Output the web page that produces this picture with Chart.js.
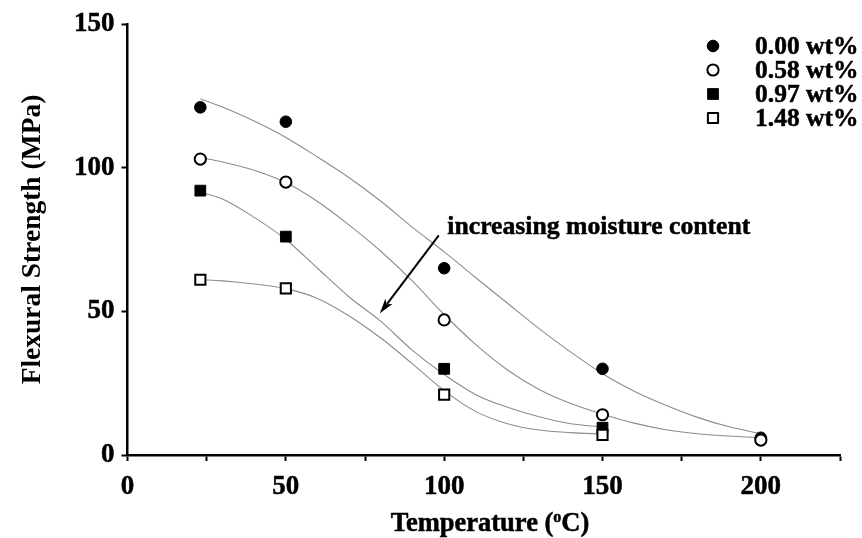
<!DOCTYPE html>
<html><head><meta charset="utf-8">
<script src="https://cdn.jsdelivr.net/npm/chart.js@4/dist/chart.umd.min.js"></script>
<style>html,body{margin:0;padding:0;background:#fff}#wrap{width:862px;height:538px;position:relative}</style>
</head><body><div id="wrap"><canvas id="c" width="862" height="538"></canvas></div>
<script>
// ---- data ----
const seriesLabels = ['0.00 wt%', '0.58 wt%', '0.97 wt%', '1.48 wt%'];
const temps = [23, 50, 100, 150, 200];
const s000 = [121, 116, 65, 30, 6];
const s058 = [103, 95, 47, 14, 5.2];
const s097 = [92, 76, 30, 9.5];
const s148 = [61, 58, 21, 7];
// fitted curves
const curveT = [23, 30, 40, 50, 60, 70, 80, 90, 100, 110, 120, 130, 140, 150, 160, 170, 180, 190, 200];
const fit000 = [124, 121.1, 116.2, 110.5, 103.7, 96.5, 88.3, 79.2, 70.7, 61.7, 52.8, 44, 35.8, 28.3, 22.2, 17.3, 13.1, 9.8, 7.4];
const fit058 = [103.5, 102, 99.1, 94.8, 88.2, 80, 70.9, 60.5, 48.9, 38.4, 29.6, 22.8, 17.9, 14.2, 11.1, 8.8, 7.4, 6.6, 6.0];
const fit097 = [91.5, 89.1, 82.7, 75, 65, 55, 46.5, 36.4, 28, 21, 16.6, 13.3, 10.9, 9.8];
const fit148 = [61, 60.6, 59.5, 57.9, 54.5, 48.4, 40.7, 31.7, 22.4, 15.1, 10.9, 8.7, 7.8, 7.3];
const xTitle = ['Temperature (', 'o', 'C)'];
const yTitle = 'Flexural Strength (MPa)';
const annotationText = 'increasing moisture content';

const FONT = '"Liberation Serif", "Times New Roman", serif';
const pts = (xs, ys) => ys.map((v, i) => ({x: xs[i], y: v}));
const curve = (ys) => ({
  type: 'line', data: pts(curveT, ys), showLine: true, pointRadius: 0,
  borderColor: '#8c8c8c', borderWidth: 1.1, cubicInterpolationMode: 'monotone',
  fill: false, order: 10, isCurve: true
});

const styles = [
  {pointStyle: 'circle', pointRadius: 5.8, pointBackgroundColor: '#000', pointBorderColor: '#000', pointBorderWidth: 1, order: 2},
  {pointStyle: 'circle', pointRadius: 5.6, pointBackgroundColor: '#fff', pointBorderColor: '#000', pointBorderWidth: 2, order: 1},
  {pointStyle: 'rect', pointRadius: 7.6, pointBackgroundColor: '#000', pointBorderColor: '#000', pointBorderWidth: 1, order: 4},
  {pointStyle: 'rect', pointRadius: 7.2, pointBackgroundColor: '#fff', pointBorderColor: '#000', pointBorderWidth: 2, order: 3}
];
const seriesData = [s000, s058, s097, s148];
const pointSets = seriesData.map((ys, i) => Object.assign({
  type: 'scatter', label: seriesLabels[i], data: pts(temps, ys), showLine: false
}, styles[i]));

function boldText(ctx, str, x, y) {
  ctx.fillText(str, x, y);
  ctx.strokeText(str, x, y);
}

const extras = {
  id: 'extras',
  afterDraw(chart) {
    const {ctx, scales: {x, y}} = chart;
    ctx.save();
    ctx.fillStyle = '#000';
    ctx.strokeStyle = '#000';
    ctx.lineWidth = 0.5;
    ctx.lineJoin = 'round';
    // x axis title with superscript
    const big = 'bold 26.5px ' + FONT, small = 'bold 16px ' + FONT;
    ctx.font = big; const w1 = ctx.measureText(xTitle[0]).width; const w3 = ctx.measureText(xTitle[2]).width;
    ctx.font = small; const w2 = ctx.measureText(xTitle[1]).width;
    const tot = w1 + w2 + w3;
    let cx = 490 - tot / 2; const by = 531;
    ctx.textAlign = 'left'; ctx.textBaseline = 'alphabetic';
    ctx.font = big; boldText(ctx, xTitle[0], cx, by); cx += w1;
    ctx.font = small; boldText(ctx, xTitle[1], cx, by - 9); cx += w2;
    ctx.font = big; boldText(ctx, xTitle[2], cx, by);
    // legend
    const lx = 713, tx = 755, rows = [46, 70, 94, 118];
    chart.data.datasets.filter(d => !d.isCurve).forEach((d, i) => {
      ctx.fillStyle = d.pointBackgroundColor; ctx.strokeStyle = d.pointBorderColor; ctx.lineWidth = d.pointBorderWidth;
      Chart.helpers.drawPoint(ctx, {pointStyle: d.pointStyle, radius: d.pointRadius, rotation: 0, borderWidth: d.pointBorderWidth}, lx, rows[i]);
      ctx.fillStyle = '#000'; ctx.strokeStyle = '#000'; ctx.lineWidth = 0.5;
      ctx.font = 'bold 25.5px ' + FONT; ctx.textBaseline = 'middle';
      boldText(ctx, d.label, tx, rows[i] + 1);
    });
    // annotation
    ctx.font = 'bold 25.7px ' + FONT; ctx.textBaseline = 'alphabetic'; ctx.fillStyle = '#000';
    boldText(ctx, annotationText, x.getPixelForValue(101), y.getPixelForValue(76.9));
    const x0 = x.getPixelForValue(98.3), y0 = y.getPixelForValue(76.4);
    const x1 = x.getPixelForValue(79.7), y1 = y.getPixelForValue(49.3);
    const ang = Math.atan2(y1 - y0, x1 - x0);
    const hl = 15, hw = 4.5;
    ctx.lineWidth = 2;
    ctx.beginPath(); ctx.moveTo(x0, y0); ctx.lineTo(x1 - Math.cos(ang) * hl * 0.8, y1 - Math.sin(ang) * hl * 0.8); ctx.stroke();
    ctx.beginPath();
    ctx.moveTo(x1, y1);
    ctx.lineTo(x1 - Math.cos(ang) * hl - Math.sin(ang) * hw, y1 - Math.sin(ang) * hl + Math.cos(ang) * hw);
    ctx.lineTo(x1 - Math.cos(ang) * hl * 0.75, y1 - Math.sin(ang) * hl * 0.75);
    ctx.lineTo(x1 - Math.cos(ang) * hl + Math.sin(ang) * hw, y1 - Math.sin(ang) * hl - Math.cos(ang) * hw);
    ctx.closePath(); ctx.fill();
    ctx.restore();
  }
};

const tickFont = {family: FONT, size: 27, weight: 'bold'};
new Chart(document.getElementById('c'), {
  type: 'scatter',
  data: {datasets: [curve(fit000), curve(fit058), curve(fit097), curve(fit148)].concat(pointSets)},
  options: {
    responsive: false, animation: false, devicePixelRatio: 1,
    layout: {padding: {top: 24, right: 22, bottom: 0, left: 0}},
    plugins: {legend: {display: false}, tooltip: {enabled: false}},
    scales: {
      x: {
        type: 'linear', min: 0, max: 225,
        afterFit: s => { s.height = 83; },
        border: {display: true, color: '#000', width: 2.5},
        grid: {drawOnChartArea: false, drawTicks: true, tickLength: 6, color: '#000', tickWidth: 2},
        ticks: {stepSize: 25, padding: 10, color: '#000', font: tickFont, textStrokeColor: '#000', textStrokeWidth: 0.5,
          callback: v => (v % 50 === 0 && v <= 200) ? String(v) : ''}
      },
      y: {
        min: 0, max: 150,
        afterFit: s => { s.width = 127.5; },
        border: {display: true, color: '#000', width: 2.5},
        grid: {drawOnChartArea: false, drawTicks: true, tickLength: 6, color: '#000', tickWidth: 2},
        ticks: {stepSize: 50, padding: 7, color: '#000', font: tickFont, textStrokeColor: '#000', textStrokeWidth: 0.5},
        title: {display: true, text: yTitle, color: '#000', font: {family: FONT, size: 27.5, weight: 'bold'}, padding: {top: 16, bottom: 0}}
      }
    }
  },
  plugins: [extras]
});
</script>
</body></html>
